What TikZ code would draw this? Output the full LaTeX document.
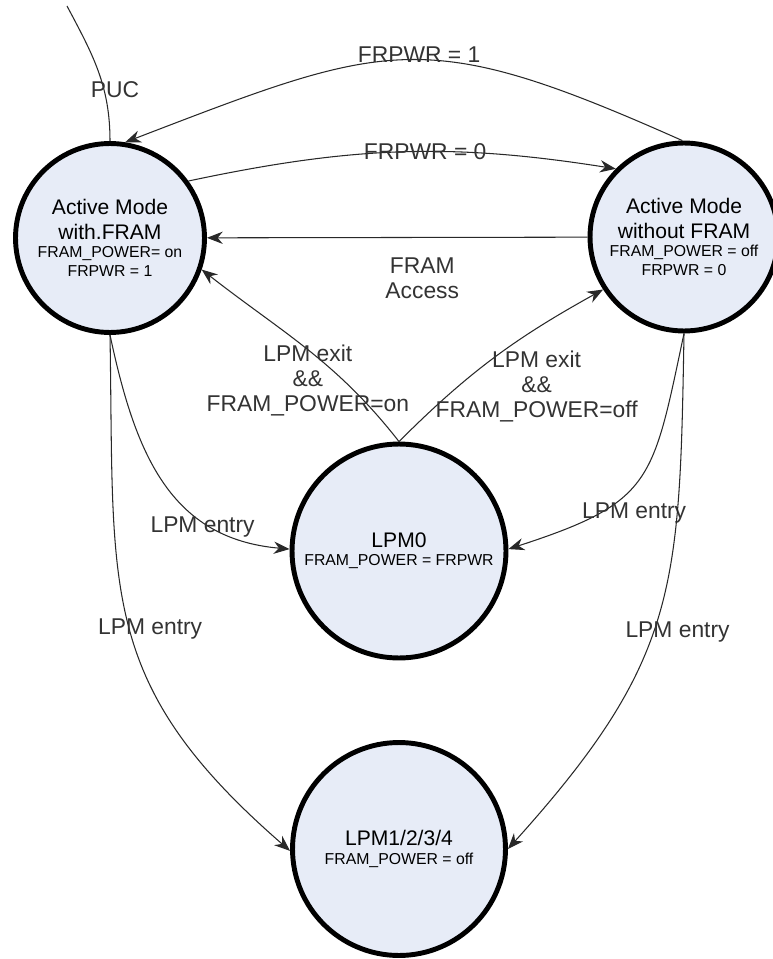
\documentclass[tikz,border=0pt]{standalone}
\usepackage{fontspec}
\setmainfont{Liberation Sans}
\usepackage{tikz}
\usetikzlibrary{positioning,arrows.meta}
\usepackage{xcolor}
\definecolor{modefill}{RGB}{231,236,247}
\definecolor{linegray}{RGB}{40,40,40}
\definecolor{labelgray}{RGB}{51,51,51}
\newcommand{\modesmall}{\fontsize{9}{10.8}\selectfont}

\begin{document}
\begin{tikzpicture}[x=0.02cm,y=-0.02cm,>={Stealth[length=9pt,width=7pt]},
  mode/.style={circle,draw=black,line width=2.8pt,fill=modefill,align=center,inner sep=0pt,font=\fontsize{12}{14}\selectfont},
  trans/.style={->,draw=linegray,line width=.6pt},
  lbl/.style={font=\fontsize{13}{14.2}\selectfont,text=labelgray,align=center,inner sep=1pt}]
\useasboundingbox (0,0) rectangle (773,959);
\node[mode,minimum size=3.78cm] (AF) at (110,238) {Active Mode\\with.FRAM\\[-3.4pt]\modesmall FRAM\_POWER= on\\[-3.2pt]\modesmall FRPWR = 1};
\node[mode,minimum size=3.76cm] (AW) at (684,237) {Active Mode\\without FRAM\\[-3.4pt]\modesmall FRAM\_POWER = off\\[-3.2pt]\modesmall FRPWR = 0};
\node[mode,minimum size=4.28cm] (LPM0) at (399,551) {LPM0\\[-3.6pt]\modesmall FRAM\_POWER = FRPWR};
\node[mode,minimum size=4.26cm] (LPM1234) at (399,849) {LPM1/2/3/4\\[-3.4pt]\modesmall FRAM\_POWER = off};
\coordinate (puc) at (67,6);
\draw[draw=linegray,line width=.6pt] (puc) to[out=-62,in=90] node[lbl,pos=.65,xshift=.22cm]{PUC} (AF.north);
\draw[trans] (AW.91) to[out=156,in=21,looseness=1.3] node[lbl,pos=.47,yshift=3pt]{FRPWR = 1} (AF.81);
\draw[trans] (AF.36) to[out=12,in=171] node[lbl,pos=.56]{FRPWR = 0} (AW.135);
\draw[trans] (AW) -- node[lbl,midway,below=10pt,xshift=.5cm]{FRAM\\Access} (AF);
\draw[trans] (LPM0.north) to[out=128,in=-38] node[lbl,pos=.3,xshift=-.72cm]{LPM exit\\\&\&\\FRAM\_POWER=on} (AF.-19);
\draw[trans] (LPM0.north) to[out=45,in=-151] node[lbl,pos=.3,xshift=1.58cm]{LPM exit\\\&\&\\FRAM\_POWER=off} (AW.213);
\draw[trans] (AF.south) to[out=-78,in=175,looseness=1.1] node[lbl,pos=.7,yshift=-4pt]{LPM entry} (LPM0.179);
\draw[trans] (AW.south) to[out=-102,in=18,looseness=1.4] node[lbl,pos=.7,xshift=.6cm,yshift=-2pt]{LPM entry} (LPM0.1);
\draw[trans] (AF.south) to[out=-89,in=139,looseness=1.2] node[lbl,pos=.5,xshift=.42cm,yshift=-1.5pt]{LPM entry} (LPM1234.181);
\draw[trans] (AW.south) to[out=-91,in=48,looseness=1.2] node[lbl,pos=.52,xshift=.44cm,yshift=-4pt]{LPM entry} (LPM1234.0);
\end{tikzpicture}
\end{document}
